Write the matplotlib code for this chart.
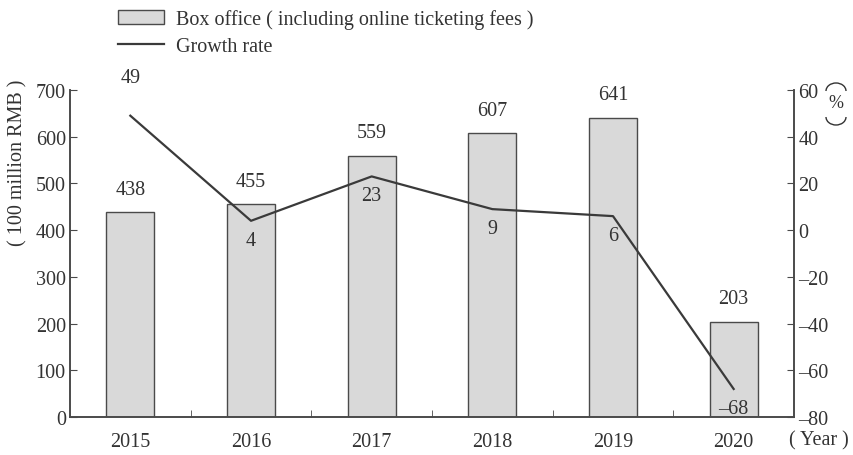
import numpy as np
import matplotlib.pyplot as plt
from matplotlib.patches import Patch, Arc
from matplotlib.lines import Line2D

plt.rcParams['font.family'] = ['Liberation Serif', 'DejaVu Serif']
plt.rcParams['font.size'] = 14.5

years = ['2015', '2016', '2017', '2018', '2019', '2020']
box_office = [438, 455, 559, 607, 641, 203]
growth = [49, 4, 23, 9, 6, -68]

bar_col = '#d9d9d9'
edge_col = '#4a4a4a'
line_col = '#3a3a3a'
text_col = '#333333'

fig = plt.figure(figsize=(8.54, 4.56), dpi=100)
ax = fig.add_axes([70/854, 1-418/456, 724/854, 327/456])
x = np.arange(len(years))

ax.bar(x, box_office, width=0.4, color=bar_col, edgecolor=edge_col, linewidth=1)
for xi, v in zip(x, box_office):
    ax.annotate(str(v), (xi, v), xytext=(0, 10), textcoords='offset points',
                ha='center', va='bottom', color=text_col)

ax.set_xlim(-0.5, len(years) - 0.5)
ax.set_ylim(0, 700)
ax.set_yticks(range(0, 701, 100))
ax.set_xticks(x)
ax.set_xticklabels(years)
ax.set_xticks(np.arange(0.5, len(years) - 0.5, 1), minor=True)
ax.tick_params(axis='x', which='major', length=0, pad=11, colors=text_col)
ax.tick_params(axis='x', which='minor', direction='in', length=5, color=edge_col)
ax.tick_params(axis='y', direction='in', length=5, color=edge_col, labelcolor=text_col, pad=3)

ax2 = ax.twinx()
ax2.plot(x, growth, color=line_col, linewidth=1.6)
ax2.set_ylim(-80, 60)
ax2.set_yticks(range(-80, 61, 20))
ax2.set_yticklabels([str(t).replace('-', '\u2013') for t in range(-80, 61, 20)])
ax2.tick_params(axis='y', direction='in', length=5, color=edge_col, labelcolor=text_col, pad=3)
for i, (xi, v) in enumerate(zip(x, growth)):
    if i == 0:
        ax2.annotate(str(v), (xi, v), xytext=(0, 21), textcoords='offset points',
                     ha='center', va='bottom', color=text_col)
    else:
        ax2.annotate(str(v).replace('-', '\u2013'), (xi, v), xytext=(0, -7),
                     textcoords='offset points', ha='center', va='top', color=text_col)

for a in (ax, ax2):
    for s in a.spines.values():
        s.set_color(edge_col)
        s.set_linewidth(1.2)
    a.spines['top'].set_visible(False)

fig.text(18/854, 1-163/456, '( 100 million RMB )', rotation=90, ha='center', va='center',
         color=text_col)
# right-hand unit, written vertically: arc, %, arc
fig.text(836/854, 1-104/456, '%', ha='center', va='center', color=text_col, fontsize=13)
fig.add_artist(Arc((8.36, 4.56 - 0.92), 0.2, 0.16, theta1=0, theta2=180,
                   transform=fig.dpi_scale_trans, color=text_col, lw=1))
fig.add_artist(Arc((8.36, 4.56 - 1.18), 0.2, 0.16, theta1=180, theta2=360,
                   transform=fig.dpi_scale_trans, color=text_col, lw=1))
fig.text(819/854, 1-441/456, '( Year )', ha='center', va='center', color=text_col)

handles = [Patch(facecolor=bar_col, edgecolor=edge_col, linewidth=1),
           Line2D([0], [0], color=line_col, linewidth=1.6)]
labels = ['Box office ( including online ticketing fees )', 'Growth rate']
fig.legend(handles, labels, loc='upper left', bbox_to_anchor=(114/854, 1-6/456),
           frameon=False, handlelength=2.3, handleheight=0.7, labelspacing=0.4,
           handletextpad=0.6, borderaxespad=0, borderpad=0.2, labelcolor=text_col)

fig.savefig('out.png', dpi=100)
